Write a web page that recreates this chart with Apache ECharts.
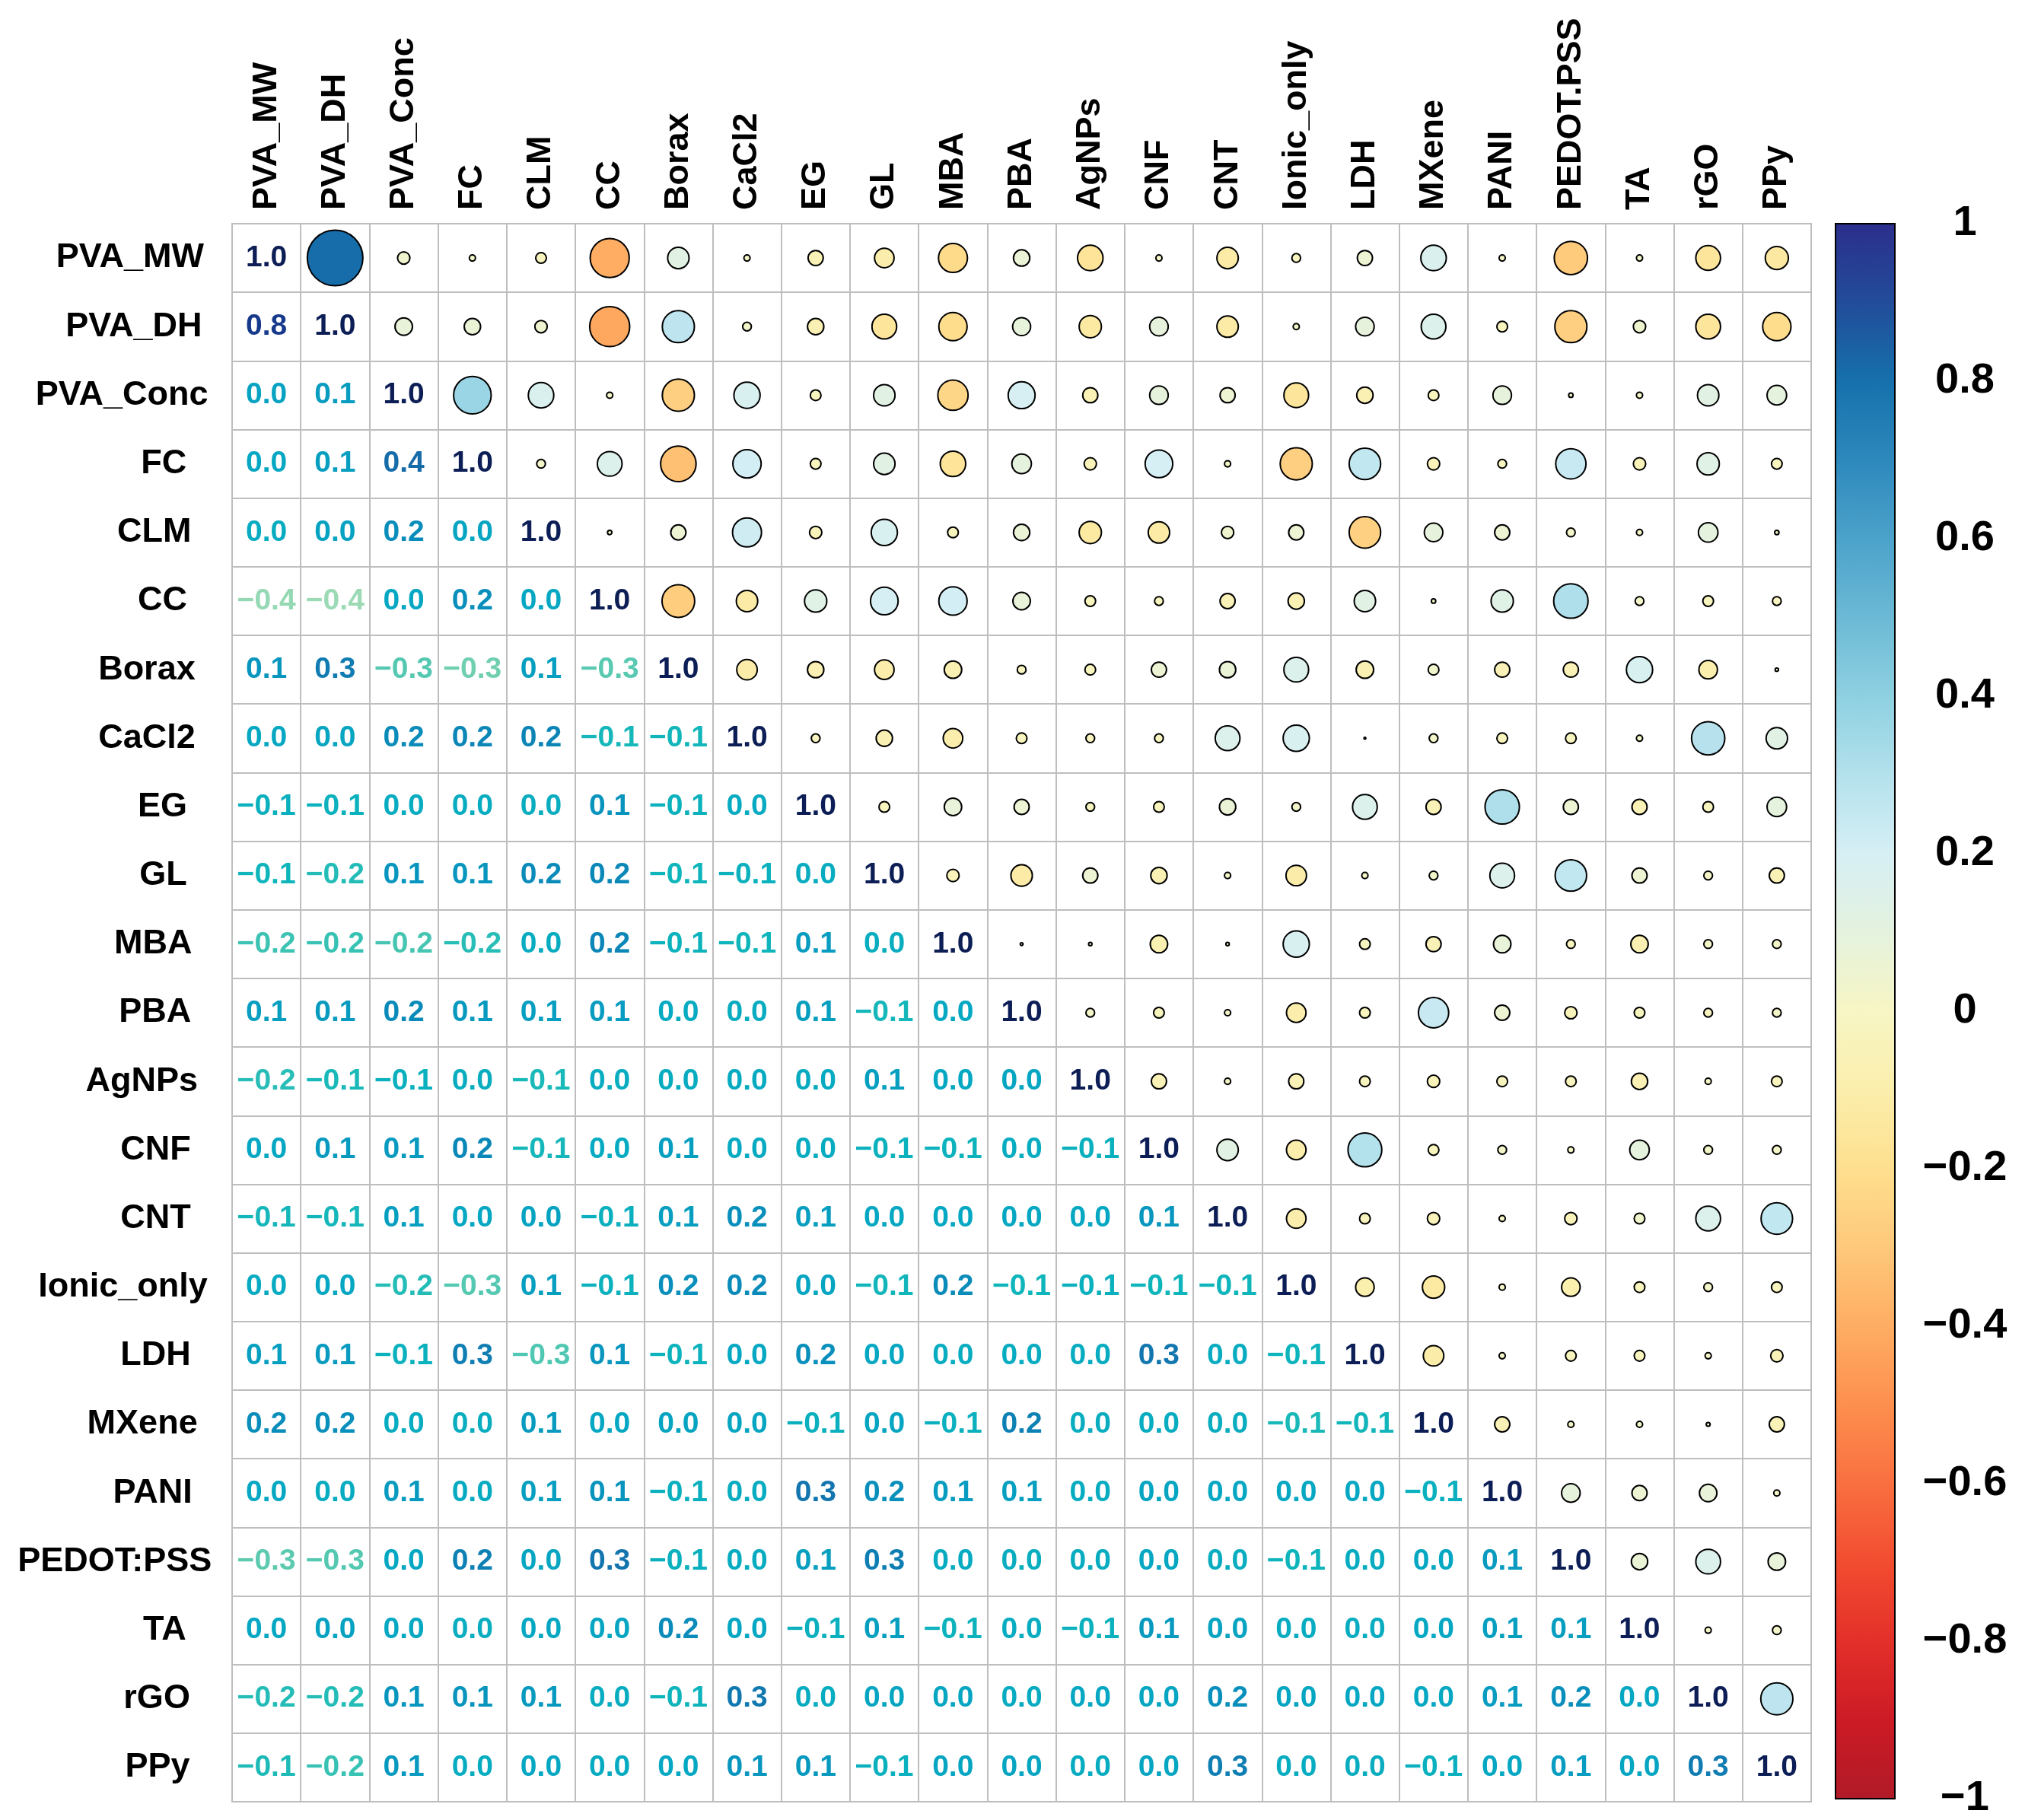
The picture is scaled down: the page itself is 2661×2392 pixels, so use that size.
<!DOCTYPE html>
<html>
<head>
<meta charset="utf-8">
<script src="https://cdn.jsdelivr.net/npm/echarts@6/dist/echarts.min.js"></script>
<style>html,body{margin:0;padding:0;background:#fff}#c{width:2661px;height:2392px}</style>
</head>
<body>
<div id="c"></div>
<script>
// ---------- DATA ----------
const rowLabels = ['PVA_MW','PVA_DH','PVA_Conc','FC','CLM','CC','Borax','CaCl2','EG','GL','MBA','PBA','AgNPs','CNF','CNT','Ionic_only','LDH','MXene','PANI','PEDOT:PSS','TA','rGO','PPy'];
const colLabels = ['PVA_MW','PVA_DH','PVA_Conc','FC','CLM','CC','Borax','CaCl2','EG','GL','MBA','PBA','AgNPs','CNF','CNT','Ionic_only','LDH','MXene','PANI','PEDOT.PSS','TA','rGO','PPy'];
const colorbarTicks = [-1, -0.8, -0.6, -0.4, -0.2, 0, 0.2, 0.4, 0.6, 0.8, 1];

// correlation of each variable with the variables listed before it
const r_PVA_MW   = [];
const r_PVA_DH   = [0.81];
const r_PVA_Conc = [0.04, 0.08];
const r_FC       = [0.01, 0.07, 0.37];
const r_CLM      = [-0.03, 0.04, 0.17, 0.02];
const r_CC       = [-0.40, -0.42, 0.01, 0.16, 0.005];
const r_Borax    = [0.12, 0.27, -0.27, -0.33, 0.06, -0.28];
const r_CaCl2    = [0.01, 0.02, 0.18, 0.21, 0.22, -0.12, -0.11];
const r_EG       = [-0.06, -0.07, -0.03, -0.03, -0.04, 0.13, -0.07, -0.02];
const r_GL       = [-0.10, -0.16, 0.12, 0.12, 0.18, 0.20, -0.10, -0.07, -0.03];
const r_MBA      = [-0.22, -0.21, -0.24, -0.17, -0.03, 0.21, -0.08, -0.10, 0.08, -0.04];
const r_PBA      = [0.07, 0.085, 0.19, 0.10, 0.07, 0.08, -0.02, -0.03, 0.06, -0.12, 0.002];
const r_AgNPs    = [-0.17, -0.13, -0.06, -0.04, -0.13, -0.03, -0.03, -0.02, -0.02, 0.06, 0.003, 0.02];
const r_CNF      = [0.01, 0.09, 0.09, 0.20, -0.12, -0.02, 0.06, -0.02, -0.03, -0.07, -0.08, -0.03, -0.06];
const r_CNT      = [-0.12, -0.12, 0.06, 0.01, 0.04, -0.06, 0.07, 0.16, 0.07, 0.01, 0.003, 0.01, 0.01, 0.12];
const r_Ionic    = [-0.02, 0.01, -0.16, -0.27, 0.06, -0.07, 0.16, 0.18, 0.02, -0.11, 0.18, -0.10, -0.06, -0.10, -0.10];
const r_LDH      = [0.06, 0.09, -0.07, 0.26, -0.26, 0.12, -0.08, 0.001, 0.16, 0.01, -0.03, -0.03, -0.03, 0.30, -0.03, -0.09];
const r_MXene    = [0.17, 0.16, -0.03, -0.04, 0.09, 0.005, 0.03, 0.02, -0.06, 0.02, -0.06, 0.24, -0.04, -0.03, -0.04, -0.13, -0.11];
const r_PANI     = [0.01, -0.03, 0.09, -0.02, 0.06, 0.13, -0.06, -0.03, 0.31, 0.16, 0.08, 0.06, -0.03, 0.02, 0.01, 0.01, 0.01, -0.06];
const r_PEDOT    = [-0.29, -0.27, 0.005, 0.24, 0.02, 0.31, -0.06, -0.03, 0.06, 0.26, -0.02, -0.04, -0.03, 0.01, -0.04, -0.09, -0.03, 0.01, 0.09];
const r_TA       = [0.01, 0.04, 0.01, -0.04, 0.01, 0.02, 0.18, 0.01, -0.06, 0.06, -0.08, -0.03, -0.07, 0.10, 0.03, -0.03, -0.03, 0.01, 0.06, 0.07];
const r_rGO      = [-0.16, -0.16, 0.12, 0.13, 0.10, -0.03, -0.09, 0.29, -0.03, 0.02, 0.02, -0.02, 0.01, 0.02, 0.16, 0.02, 0.01, 0.004, 0.08, 0.16, 0.01];
const r_PPy      = [-0.14, -0.21, 0.10, -0.03, 0.005, -0.02, 0.003, 0.12, 0.10, -0.06, 0.02, 0.02, -0.03, 0.02, 0.26, -0.03, -0.04, -0.06, 0.01, 0.08, 0.02, 0.27];

const lowerRows = [r_PVA_MW, r_PVA_DH, r_PVA_Conc, r_FC, r_CLM, r_CC, r_Borax, r_CaCl2, r_EG, r_GL, r_MBA, r_PBA,
  r_AgNPs, r_CNF, r_CNT, r_Ionic, r_LDH, r_MXene, r_PANI, r_PEDOT, r_TA, r_rGO, r_PPy];

// ---------- COLOURS ----------
const circleStops = [
  [-1.0,'#B01A27'],[-0.9,'#CC1B25'],[-0.8,'#E3302A'],[-0.7,'#F24C30'],[-0.6,'#F96F40'],[-0.5,'#FD8F4E'],
  [-0.4,'#FEAD63'],[-0.3,'#FEC87A'],[-0.2,'#FEDF8F'],[-0.1,'#FBEEAC'],[0.0,'#F7F6C4'],[0.1,'#E4F2DE'],
  [0.2,'#D6EFF5'],[0.3,'#B3E1EC'],[0.4,'#8ED0E1'],[0.5,'#6BB9D5'],[0.6,'#4BA2CA'],[0.7,'#2D88BC'],
  [0.8,'#1670AC'],[0.9,'#224C99'],[1.0,'#2B2E8C']];
const textStops = [
  [-1.0,'#FFFFD9'],[-0.5,'#B5E3B6'],[-0.4,'#94D8B4'],[-0.3,'#62CBB0'],[-0.2,'#33C1B4'],[-0.1,'#0EB5BB'],
  [0.0,'#05A8C2'],[0.1,'#0899BF'],[0.2,'#0A88B8'],[0.3,'#1277AF'],[0.4,'#1766A6'],[0.6,'#1E4F9C'],
  [0.8,'#173A8E'],[1.0,'#0C1E55']];
function hex2rgb(h){return [parseInt(h.substr(1,2),16),parseInt(h.substr(3,2),16),parseInt(h.substr(5,2),16)];}
function interp(stops, v){
  if (v <= stops[0][0]) return stops[0][1];
  for (let k = 1; k < stops.length; k++) {
    if (v <= stops[k][0]) {
      const t = (v - stops[k-1][0]) / (stops[k][0] - stops[k-1][0]);
      const a = hex2rgb(stops[k-1][1]), b = hex2rgb(stops[k][1]);
      return 'rgb(' + a.map((x,q)=>Math.round(x + (b[q]-x)*t)).join(',') + ')';
    }
  }
  return stops[stops.length-1][1];
}
function fmt(v){ const r = Math.round(v*10)/10 + 0; return r.toFixed(1).replace('-','\u2212'); }

// ---------- BUILD ----------
const n = rowLabels.length;
const M = [];
for (let i = 0; i < n; i++) { M.push(new Array(n).fill(0)); M[i][i] = 1; }
lowerRows.forEach((row, i) => row.forEach((v, j) => { M[i][j] = v; M[j][i] = v; }));

const textData = [], circleData = [];
for (let i = 0; i < n; i++) for (let j = 0; j < n; j++) {
  if (j <= i) textData.push([j, i, M[i][j]]);
  else circleData.push([j, i, M[i][j]]);
}

const FONT = '"Liberation Sans", Arial, Helvetica, sans-serif';
// left-label rich styles (slight right-edge drift proportional to label width, as in the reference)
const mctx = document.createElement('canvas').getContext('2d');
mctx.font = 'bold 45px ' + FONT;
const rich = {};
const ANCHOR = 291;
rowLabels.forEach((lab, i) => {
  const w = mctx.measureText(lab).width;
  const end = 235 + 0.17 * w;
  rich['l' + i] = {fontSize: 45, fontWeight: 'bold', fontFamily: FONT, color: '#000', padding: [0, Math.max(0, ANCHOR - end), 0, 0]};
});

const GRID_L = 305, GRID_T = 294, GRID_W = 2075, GRID_H = 2074;
const gradStops = circleStops.map(s => ({offset: (1 - s[0]) / 2, color: s[1]})).sort((a,b)=>a.offset-b.offset);

const chart = echarts.init(document.getElementById('c'), null, {renderer: 'canvas', width: 2661, height: 2392});
chart.setOption({
  animation: false,
  backgroundColor: '#ffffff',
  grid: [
    {left: GRID_L, top: GRID_T, width: GRID_W, height: GRID_H, show: true, borderColor: '#BEBEBE', borderWidth: 2, backgroundColor: 'transparent'},
    {left: 2412, top: GRID_T, width: 78, height: GRID_H}
  ],
  xAxis: [
    {type: 'category', gridIndex: 0, data: colLabels, position: 'top', boundaryGap: true,
      axisLine: {show: false}, axisTick: {show: false},
      splitLine: {show: true, lineStyle: {color: '#BEBEBE', width: 2}},
      axisLabel: {rotate: -90, margin: 18, fontSize: 45, fontWeight: 'bold', fontFamily: FONT, color: '#000', interval: 0}},
    {type: 'value', gridIndex: 1, min: 0, max: 1, show: false}
  ],
  yAxis: [
    {type: 'category', gridIndex: 0, data: rowLabels, inverse: true, boundaryGap: true,
      axisLine: {show: false}, axisTick: {show: false},
      splitLine: {show: true, lineStyle: {color: '#BEBEBE', width: 2}},
      axisLabel: {margin: GRID_L - ANCHOR, interval: 0, align: 'right', fontSize: 45, fontWeight: 'bold', fontFamily: FONT, color: '#000',
        formatter: (v, i) => '{l' + i + '|' + v + '}', rich: rich}},
    {type: 'value', gridIndex: 1, min: -1, max: 1, interval: 0.2, position: 'right',
      axisLine: {show: false}, splitLine: {show: false},
      axisTick: {show: true, length: 15, lineStyle: {color: '#000', width: 2}},
      axisLabel: {margin: 92, align: 'center', fontSize: 56, fontWeight: 'bold', fontFamily: FONT, color: '#000',
        formatter: v => { const r = Math.round(v*10)/10 + 0; return (r === 0 ? '0' : String(r)).replace('-', '\u2212'); }}}
  ],
  series: [
    {type: 'custom', xAxisIndex: 0, yAxisIndex: 0, data: circleData, silent: true, clip: false,
      renderItem: (params, api) => {
        const p = api.coord([api.value(0), api.value(1)]);
        const s = api.size([1, 1]);
        const v = api.value(2);
        const r = 0.9 * Math.sqrt(Math.abs(v)) * Math.min(s[0], s[1]) / 2;
        return {type: 'circle', shape: {cx: p[0], cy: p[1], r: r},
          style: {fill: interp(circleStops, v), stroke: '#000', lineWidth: 2}};
      }},
    {type: 'custom', xAxisIndex: 0, yAxisIndex: 0, data: textData, silent: true, clip: false,
      renderItem: (params, api) => {
        const p = api.coord([api.value(0), api.value(1)]);
        const v = api.value(2);
        return {type: 'text', x: p[0], y: p[1],
          style: {text: fmt(v), fill: interp(textStops, v), fontSize: 39, fontWeight: 'bold', fontFamily: FONT,
            align: 'center', verticalAlign: 'middle'}};
      }},
    {type: 'custom', xAxisIndex: 1, yAxisIndex: 1, data: [[0.5, 0]], silent: true, clip: false,
      renderItem: (params, api) => {
        const cs = params.coordSys;
        return {type: 'rect', shape: {x: cs.x, y: cs.y, width: cs.width, height: cs.height},
          style: {fill: new echarts.graphic.LinearGradient(0, 0, 0, 1, gradStops), stroke: '#000', lineWidth: 2}};
      }}
  ]
});
</script>
</body>
</html>
